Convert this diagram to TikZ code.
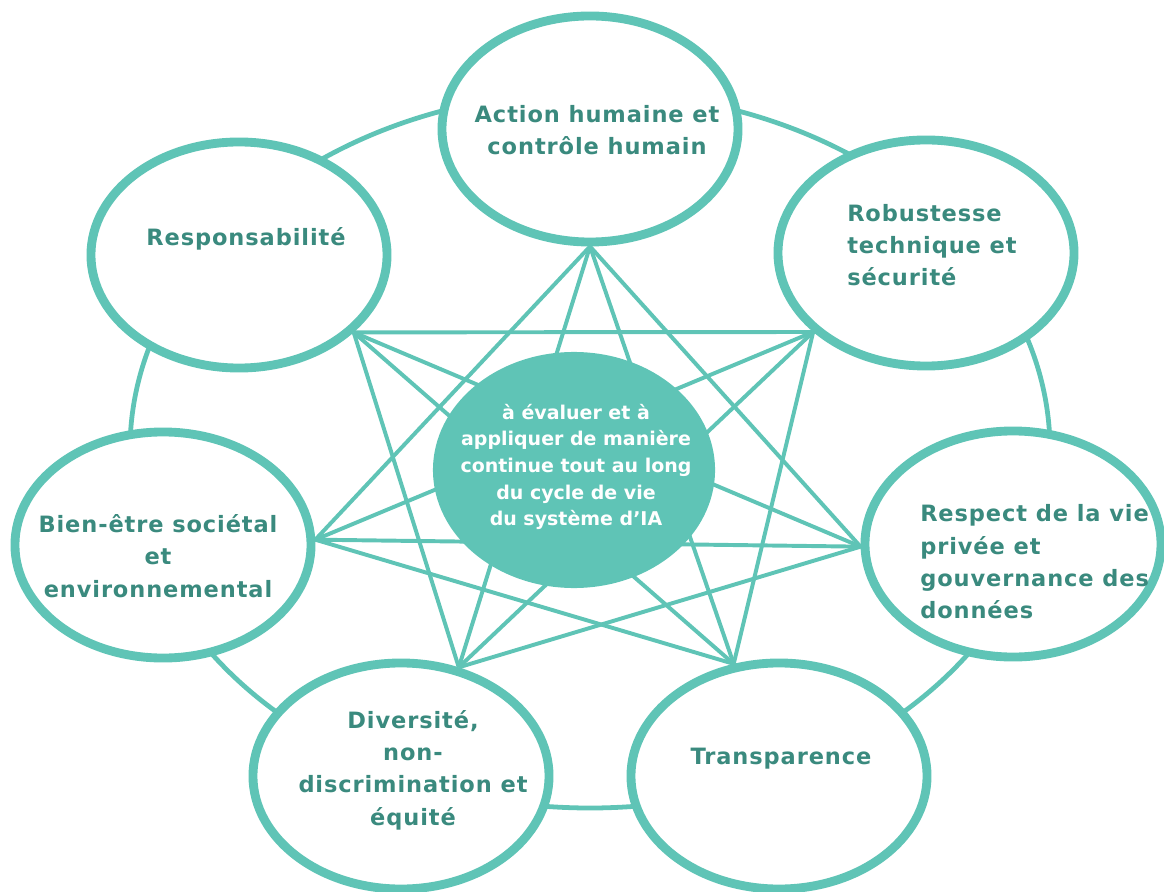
\documentclass[tikz,border=0pt]{standalone}
\usepackage{fontspec}
\setmainfont{DejaVu Sans}[LetterSpace=4]
\newfontfamily\corefont{DejaVu Sans}
\usetikzlibrary{shapes.geometric,backgrounds}
\definecolor{aqua}{RGB}{95,196,182}
\definecolor{deepaqua}{RGB}{58,138,126}

\begin{document}
\begin{tikzpicture}
    [ x = .025cm, y = -.025cm
    , pillar/.style =
      { draw = aqua, line width = 6.3pt, fill = white, ellipse, inner sep = 0pt
      , minimum width = 7.4cm, minimum height = 5.65cm }
    , core/.style =
      { fill = aqua, ellipse, inner sep = 0pt
      , minimum width = 7.05cm, minimum height = 5.9cm }
    , caption/.style =
      { text = deepaqua, inner sep = 0pt
      , font = \fontsize{16}{23}\selectfont\bfseries }
    , coretext/.style =
      { text = white, inner sep = 0pt, align = center
      , font = \corefont\fontsize{13.5}{19}\selectfont\bfseries }
    , edge/.style =
      { draw = aqua, line width = 2.8pt }
    , ring/.style =
      { draw = aqua, line width = 3.4pt }
    ]
    \useasboundingbox (0,0) rectangle (1164,892);

    \node [core] (core) at (574,470) {};
    \node [pillar] (action) at (590,129) {};
    \node [pillar] (robust) at (926,253) {};
    \node [pillar] (privacy) at (1013,544) {};
    \node [pillar] (transp) at (779,776) {};
    \node [pillar] (divers) at (401,776) {};
    \node [pillar] (wellbeing) at (163,545) {};
    \node [pillar] (account) at (239,255) {};

    \node [coretext] (core-txt) at (576,467)
      {à évaluer et à\\appliquer de manière\\continue tout au long\\du cycle de vie\\du système d’IA};
    \node [caption, align=center] (action-txt) at (597,130)
      {Action humaine et\\contrôle humain};
    \node [caption, align=left, anchor=west] (robust-txt) at (847,245)
      {Robustesse\\technique et\\sécurité};
    \node [caption, align=left, anchor=west] (privacy-txt) at (920,562)
      {Respect de la vie\\privée et\\gouvernance des\\données};
    \node [caption] (transp-txt) at (781,759) {Transparence};
    \node [caption, align=center] (divers-txt) at (413,770)
      {Diversité,\\non-\\discrimination et\\équité};
    \node [caption, align=center] (wellbeing-txt) at (158,556)
      {Bien-être sociétal\\et\\environnemental};
    \node [caption] (account-txt) at (246,239) {Responsabilité};

    \begin{scope}[on background layer]
      \draw [ring] (590,450) ellipse [x radius=460, y radius=358];

      \coordinate (p1) at (action.270);
      \coordinate (p2) at (robust.215);
      \coordinate (p3) at (privacy.181);
      \coordinate (p4) at (transp.112);
      \coordinate (p5) at (divers.62);
      \coordinate (p6) at (wellbeing.2);
      \coordinate (p7) at (account.326);

      % two steps round
      \draw [edge] (p1) -- (p3);
      \draw [edge] (p2) -- (p4);
      \draw [edge] (p3) -- (p5);
      \draw [edge] (p4) -- (p6);
      \draw [edge] (p5) -- (p7);
      \draw [edge] (p6) -- (p1);
      \draw [edge] (p7) -- (p2);
      % three steps round, through the core
      \draw [edge] (p1) -- (p4);
      \draw [edge] (p2) -- (p5);
      \draw [edge] (p3) -- (p6);
      \draw [edge] (p4) -- (p7);
      \draw [edge] (p5) -- (p1);
      \draw [edge] (p6) -- (p2);
      \draw [edge] (p7) -- (p3);
    \end{scope}
  \end{tikzpicture}
\end{document}
